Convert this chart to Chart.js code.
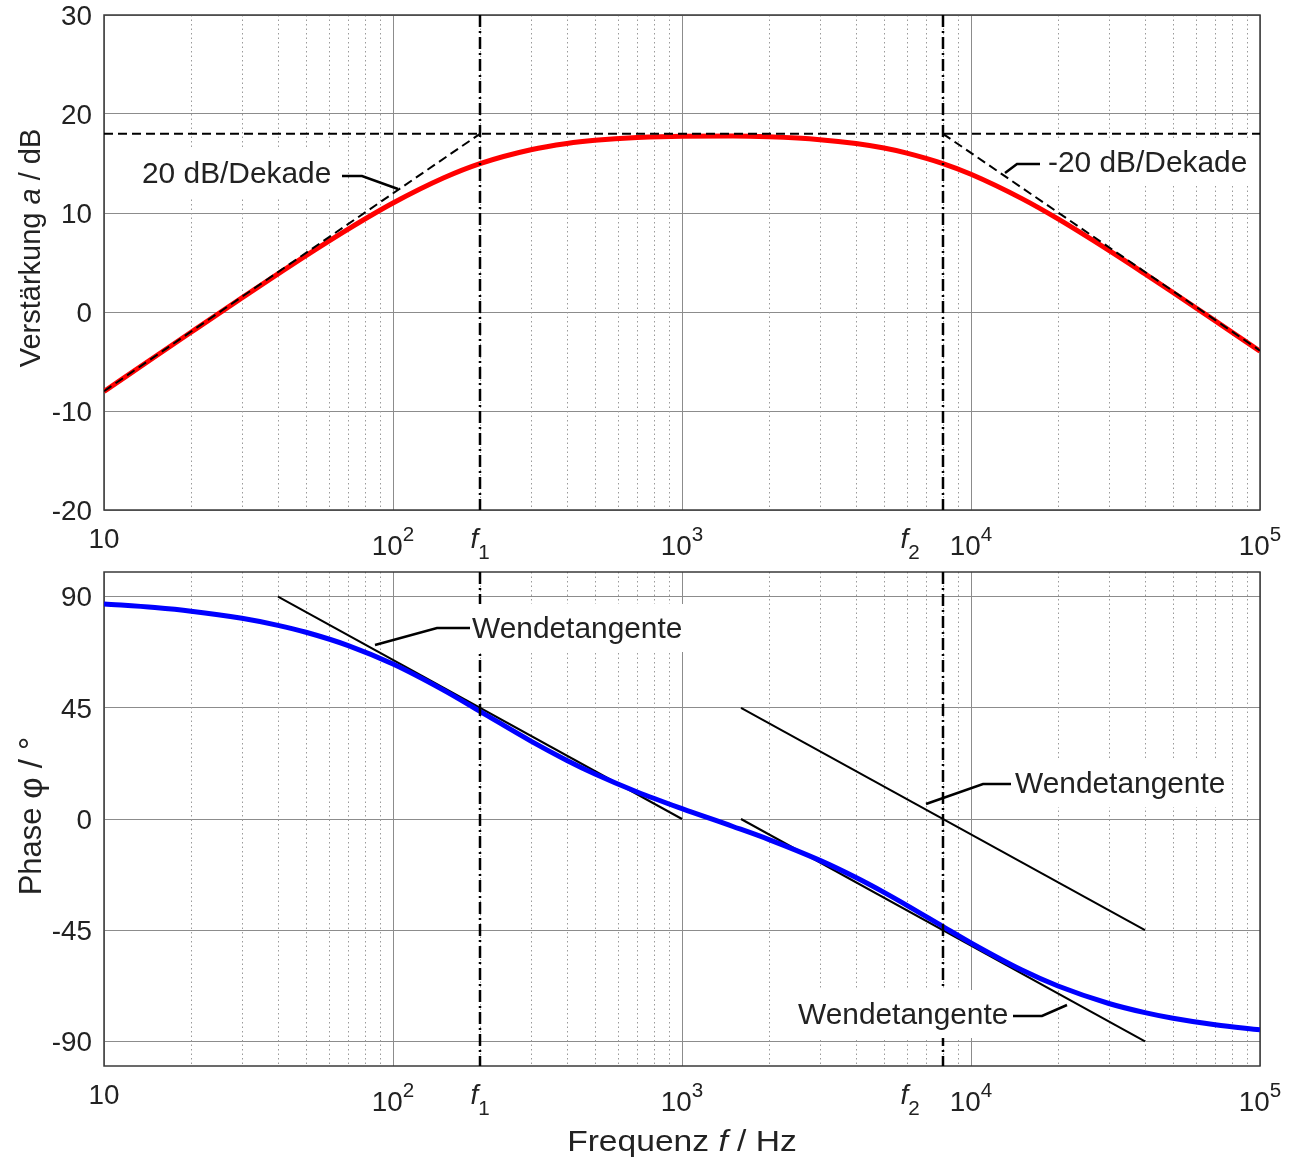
<!DOCTYPE html>
<html>
<head>
<meta charset="utf-8">
<script src="https://cdn.jsdelivr.net/npm/chart.js@4.4.1/dist/chart.umd.min.js"></script>
<style>
  body { margin: 0; background: #fff; }
  #wrap { position: relative; width: 1294px; height: 1165px; }
  canvas { position: absolute; left: 0; }
</style>
</head>
<body>
<div id="wrap">
  <canvas id="gain" width="1294" height="560" style="top:0"></canvas>
  <canvas id="phase" width="1294" height="605" style="top:560px"></canvas>
</div>
<script>
// frequency points (Hz)
const freq = [10, 15, 20, 30, 40, 50, 70, 100, 150, 200, 300, 400, 500, 700, 1000,
  1500, 2000, 3000, 4000, 5000, 6000, 8000, 10000, 15000, 20000, 30000, 40000, 50000, 70000, 100000];
// Verstärkung in dB
const gainDb = [-8.03, -4.52, -2.04, 1.43, 3.85, 5.70, 8.38, 11.01, 13.56, 14.99, 16.39, 17.02, 17.34, 17.63, 17.76,
  17.77, 17.69, 17.41, 17.02, 16.56, 16.05, 14.99, 13.91, 11.45, 9.40, 6.22, 3.85, 1.97, -0.90, -3.97];
// Phase in Grad
const phaseDeg = [87.07, 85.60, 84.15, 81.25, 78.40, 75.60, 70.21, 62.71, 52.06, 43.57, 31.54, 23.71, 18.22, 10.95, 4.19,
  -3.03, -8.33, -16.75, -23.71, -29.72, -34.96, -43.57, -50.19, -61.17, -67.63, -74.69, -78.40, -80.68, -83.32, -85.32];

const cornerF = [200, 8000];          // f1, f2
const plateauF = [10, 100000];
const plateauDb = [18, 18];
const riseF = [10, 200];
const riseDb = [-8, 18];
const fallF = [8000, 100000];
const fallDb = [18, -3.9];

const tangentF = [[40, 1000], [1600, 40000], [1600, 40000]];
const tangentDeg = [[90, 0], [0, -90], [45, -45]];

const majorX = [10, 100, 1000, 10000, 100000];
const minorX = [20, 30, 40, 50, 60, 70, 80, 90, 200, 300, 400, 500, 600, 700, 800, 900,
  2000, 3000, 4000, 5000, 6000, 7000, 8000, 9000, 20000, 30000, 40000, 50000, 60000, 70000, 80000, 90000];
const xTickValues = [10, 100, 200, 1000, 8000, 10000, 100000];
const xTickLabels = ['10', '10^2', 'f_1', '10^3', 'f_2', '10^4', '10^5'];
const gainTicks = [-20, -10, 0, 10, 20, 30];
const phaseTicks = [-90, -45, 0, 45, 90];

const FONT = '"Liberation Sans", Arial, sans-serif';
const INK = '#222';

function pts(xs, ys) {
  return xs.map((x, i) => ({ x: x, y: ys[i] }));
}

function setFont(ctx, size, italic) {
  ctx.font = (italic ? 'italic ' : '') + size + 'px ' + FONT;
}

// parts: [{t, i, s, dy}] drawn one after another, cap centre at y, sx = horizontal stretch
function richWidth(ctx, parts, sx) {
  let w = 0;
  parts.forEach(p => { setFont(ctx, p.s, p.i); w += ctx.measureText(p.t).width; });
  return w * (sx || 1);
}
function drawRich(ctx, parts, x, y, align, sx) {
  sx = sx || 1;
  const w = richWidth(ctx, parts, sx);
  let cx = align === 'center' ? x - w / 2 : (align === 'right' ? x - w : x);
  ctx.save();
  ctx.translate(cx, y);
  ctx.scale(sx, 1);
  ctx.fillStyle = INK;
  ctx.textAlign = 'left';
  ctx.textBaseline = 'alphabetic';
  let px = 0;
  parts.forEach(p => {
    setFont(ctx, p.s, p.i);
    ctx.fillText(p.t, px, 0.358 * p.s + (p.dy || 0));
    px += ctx.measureText(p.t).width;
  });
  ctx.restore();
  return w;
}

function tickParts(lab) {
  if (lab.indexOf('^') > 0) {
    const [b, e] = lab.split('^');
    return [{ t: b, s: 27, dy: 7 }, { t: e, s: 20, dy: -4 }];
  }
  if (lab.indexOf('_') > 0) {
    const [b, e] = lab.split('_');
    return [{ t: b, s: 27, i: true }, { t: e, s: 20, dy: 14 }];
  }
  return [{ t: lab, s: 27 }];
}

function decoPlugin(cfg) {
  return {
    id: 'deco',
    beforeDatasetsDraw(chart) {
      const { ctx, chartArea: a } = chart;
      const xs = chart.scales.x;
      ctx.save();
      // dotted minor grid
      ctx.strokeStyle = '#9a9a9a';
      ctx.lineWidth = 1;
      ctx.setLineDash([1.5, 3]);
      minorX.forEach(v => {
        const px = Math.round(xs.getPixelForValue(v)) + 0.5;
        ctx.beginPath();
        ctx.moveTo(px, a.top);
        ctx.lineTo(px, a.bottom);
        ctx.stroke();
      });
      ctx.setLineDash([]);
      ctx.strokeStyle = '#3a3a3a';
      ctx.lineWidth = 1.5;
      ctx.strokeRect(a.left, a.top, a.right - a.left, a.bottom - a.top);
      ctx.restore();
    },
    afterDatasetsDraw(chart) {
      const { ctx, chartArea: a } = chart;
      const xs = chart.scales.x, ys = chart.scales.y;
      ctx.save();
      // annotations with white box and leader line
      cfg.notes.forEach(n => {
        const parts = [{ t: n.text, s: 29 }];
        const w = richWidth(ctx, parts, 1.03);
        ctx.fillStyle = '#fff';
        ctx.fillRect(n.x - 5, n.y - 24, w + 10, 48);
        drawRich(ctx, parts, n.x, n.y, 'left', 1.03);
        ctx.strokeStyle = '#000';
        ctx.lineWidth = 2.5;
        ctx.beginPath();
        n.lead.forEach((p, i) => i ? ctx.lineTo(p[0], p[1]) : ctx.moveTo(p[0], p[1]));
        ctx.stroke();
      });
      // y tick labels
      cfg.yTicks.forEach(v => {
        drawRich(ctx, [{ t: String(v), s: 27 }], a.left - 12, ys.getPixelForValue(v), 'right', 1.03);
      });
      // x tick labels, a label that would run into the next one is moved left
      const items = xTickValues.map((v, i) => {
        const parts = tickParts(xTickLabels[i]);
        return { px: xs.getPixelForValue(v), parts: parts, w: richWidth(ctx, parts, 1.03) };
      });
      items.forEach((it, i) => {
        let cx = it.px;
        const next = items[i + 1];
        if (next && cx + it.w / 2 > next.px - next.w / 2 - 8) {
          cx = next.px - next.w / 2 - 30 - it.w / 2;
        }
        drawRich(ctx, it.parts, cx, a.bottom + cfg.labelGap, 'center', 1.03);
      });
      // y axis title
      ctx.save();
      ctx.translate(30, cfg.yTitleY);
      ctx.rotate(-Math.PI / 2);
      drawRich(ctx, cfg.yTitle, 0, 0, 'center');
      ctx.restore();
      if (cfg.xTitle) drawRich(ctx, cfg.xTitle, xs.getPixelForValue(1000), cfg.xTitleY, 'center', 1.12);
      ctx.restore();
    }
  };
}

function makeChart(id, canvasH, plotTop, plotBottom, yMin, yMax, yTicks, datasets, deco) {
  return new Chart(document.getElementById(id), {
    type: 'line',
    data: { datasets: datasets },
    options: {
      responsive: false,
      animation: false,
      layout: { padding: { top: plotTop, right: 34, left: 0, bottom: 0 } },
      plugins: { legend: { display: false }, tooltip: { enabled: false } },
      elements: { point: { radius: 0 } },
      scales: {
        x: {
          type: 'logarithmic', min: 10, max: 100000,
          afterBuildTicks: s => { s.ticks = majorX.map(v => ({ value: v })); },
          afterFit: s => { s.height = canvasH - plotBottom; },
          ticks: { display: false },
          grid: { color: '#8c8c8c', lineWidth: 1, drawTicks: false },
          border: { display: false }
        },
        y: {
          min: yMin, max: yMax,
          afterBuildTicks: s => { s.ticks = yTicks.map(v => ({ value: v })); },
          afterFit: s => { s.width = 104; },
          ticks: { display: false },
          grid: { color: '#8c8c8c', lineWidth: 1, drawTicks: false },
          border: { display: false }
        }
      }
    },
    plugins: [decoPlugin(deco)]
  });
}

const dashed = { borderColor: '#000', borderWidth: 2, borderDash: [9, 5], fill: false };
const dashDot = { borderColor: '#000', borderWidth: 2.5, borderDash: [12, 4, 2, 4], fill: false };

makeChart('gain', 560, 15, 510, -20, 30, gainTicks, [
  Object.assign({ data: pts(plateauF, plateauDb) }, dashed),
  Object.assign({ data: pts(riseF, riseDb) }, dashed),
  Object.assign({ data: pts(fallF, fallDb) }, dashed),
  Object.assign({ data: pts([cornerF[0], cornerF[0]], [30, -20]) }, dashDot),
  Object.assign({ data: pts([cornerF[1], cornerF[1]], [30, -20]) }, dashDot),
  { data: pts(freq, gainDb), borderColor: '#ff0000', borderWidth: 5, cubicInterpolationMode: 'monotone', fill: false }
], {
  yTicks: gainTicks,
  labelGap: 28,
  yTitleY: 248,
  yTitle: [{ t: 'Verstärkung ', s: 29 }, { t: 'a', s: 29, i: true }, { t: ' / dB', s: 29 }],
  notes: [
    { text: '20 dB/Dekade', x: 142, y: 173, lead: [[342, 176], [362, 176], [398, 189]] },
    { text: '-20 dB/Dekade', x: 1048, y: 162, lead: [[1040, 164], [1017, 164], [1005, 173]] }
  ]
});

makeChart('phase', 605, 12, 506, -100, 100, phaseTicks, [
  Object.assign({ data: pts([cornerF[0], cornerF[0]], [100, -100]) }, dashDot),
  Object.assign({ data: pts([cornerF[1], cornerF[1]], [100, -100]) }, dashDot),
  { data: pts(freq, phaseDeg), borderColor: '#0000ff', borderWidth: 5, cubicInterpolationMode: 'monotone', fill: false },
  { data: pts(tangentF[0], tangentDeg[0]), borderColor: '#000', borderWidth: 2, fill: false },
  { data: pts(tangentF[1], tangentDeg[1]), borderColor: '#000', borderWidth: 2, fill: false },
  { data: pts(tangentF[2], tangentDeg[2]), borderColor: '#000', borderWidth: 2, fill: false }
], {
  yTicks: phaseTicks,
  labelGap: 28,
  yTitleY: 256,
  yTitle: [{ t: 'Phase ', s: 31 }, { t: 'φ', s: 33 }, { t: ' / °', s: 33 }],
  xTitleY: 580,
  xTitle: [{ t: 'Frequenz ', s: 30 }, { t: 'f', s: 30, i: true }, { t: ' / Hz', s: 30 }],
  notes: [
    { text: 'Wendetangente', x: 472, y: 68, lead: [[375, 85], [437, 68], [470, 68]] },
    { text: 'Wendetangente', x: 1015, y: 223, lead: [[926, 244], [983, 224], [1011, 224]] },
    { text: 'Wendetangente', x: 798, y: 454, lead: [[1013, 456], [1042, 456], [1067, 445]] }
  ]
});
</script>
</body>
</html>
